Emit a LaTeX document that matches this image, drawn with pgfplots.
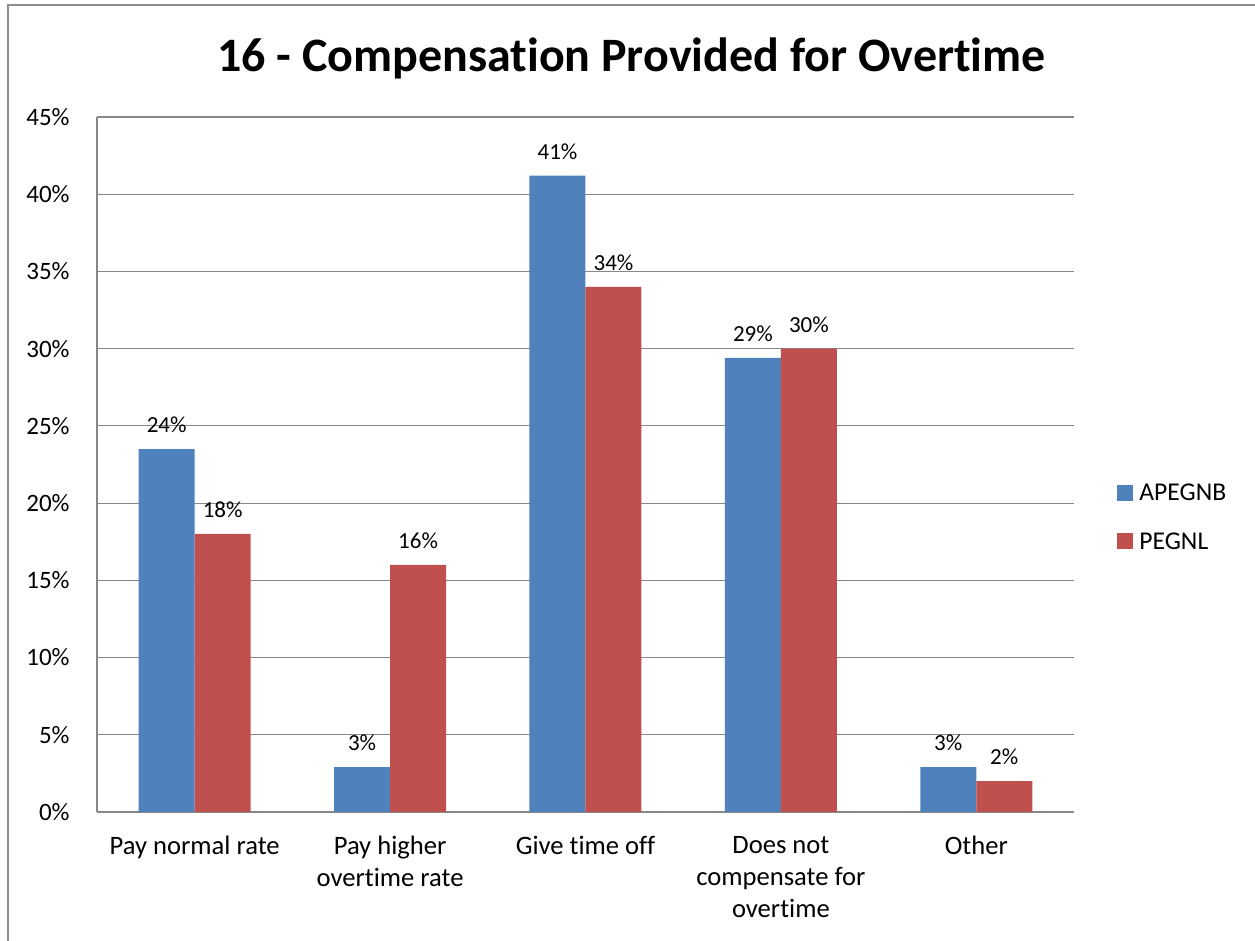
\documentclass[border=0pt]{standalone}
\usepackage{fontspec}
\setmainfont{Carlito}[Ligatures=NoCommon]
\usepackage{pgfplots}
\pgfplotsset{compat=1.18}
\definecolor{blueS}{HTML}{4F81BD}
\definecolor{redS}{HTML}{C0504D}
\definecolor{gridc}{HTML}{888888}
\definecolor{framec}{HTML}{8C8C8C}
\begin{document}
\begin{tikzpicture}
\begin{axis}[
  at={(48.5pt,64.5pt)}, anchor=south west,
  scale only axis, width=488.5pt, height=347.5pt,
  ybar=0pt, bar width=28pt,
  xmin=-0.5, xmax=4.5, ymin=0, ymax=45,
  xtick={0,1,2,3,4},
  xticklabels={Pay normal rate, {Pay higher\\overtime rate}, Give time off, {Does not\\compensate for\\overtime}, Other},
  xticklabel style={font=\fontsize{13.3}{16}\selectfont, align=center, inner sep=0pt, anchor=north, yshift=-12pt},
  ytick={0,5,...,45},
  yticklabel={\pgfmathprintnumber{\tick}\%},
  yticklabel style={font=\fontsize{12.5}{14}\selectfont, inner sep=0pt, anchor=east, xshift=-13.5pt},
  /pgf/number format/assume math mode=true,
  ymajorgrids, grid style={gridc, line width=0.6pt},
  axis x line*=bottom, axis y line*=left,
  axis line style={gridc, line width=0.6pt},
  major tick length=0pt, tick style={draw=none},
  nodes near coords={\pgfmathprintnumber[fixed,precision=0]{\pgfplotspointmeta}\%},
  nodes near coords style={font=\fontsize{11.5}{13}\selectfont, yshift=4.5pt, text=black},
  legend style={at={(1.044,0.472)}, anchor=north west, draw=none, fill=none, inner sep=0pt,
    row sep=16pt, font=\fontsize{12.8}{14}\selectfont,
    nodes={inner sep=0pt, text height=8.2pt, text depth=0pt},
    /tikz/every odd column/.append style={column sep=3pt}},
  legend cell align=left,
  legend image code/.code={\fill[#1] (0pt,-4pt) rectangle (8pt,4pt);},
]
\addplot[fill=blueS, draw=none] coordinates {(0,23.5) (1,2.9) (2,41.2) (3,29.4) (4,2.9)};
\addplot[fill=redS, draw=none] coordinates {(0,18) (1,16) (2,34) (3,30) (4,2)};
\legend{APEGNB, PEGNL}
\end{axis}
\node[anchor=base, font=\fontsize{24}{28}\selectfont\bfseries] at (315.75pt,434.5pt) {16 - Compensation Provided for Overtime};
\draw[framec, line width=1pt] (3.75pt,-1pt) -- (3.75pt,468pt) -- (628pt,468pt);
\pgfresetboundingbox
\useasboundingbox (0,0) rectangle (627.5pt,470.5pt);
\end{tikzpicture}
\end{document}
